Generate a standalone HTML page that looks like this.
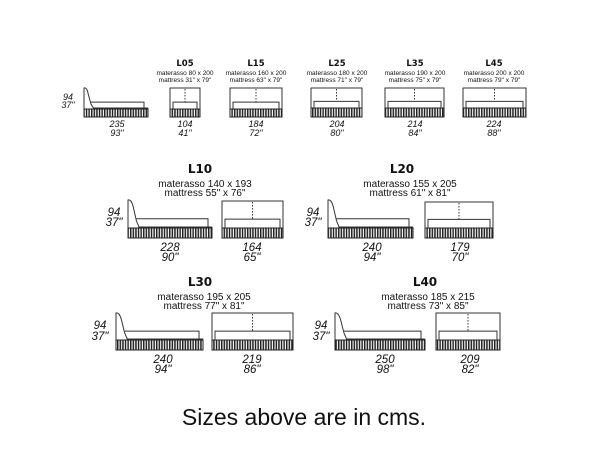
<!DOCTYPE html>
<html><head><meta charset="utf-8">
<style>
html,body{margin:0;padding:0;background:#fff;}
svg{display:block;}
.t{font-family:"Liberation Sans",sans-serif;fill:#111;}
.h{font-weight:bold;text-anchor:middle;font-family:"DejaVu Sans","Liberation Sans",sans-serif;}
.s{text-anchor:middle;}
.n{text-anchor:middle;font-style:italic;font-size:11.5px;}
.ns{text-anchor:middle;font-style:italic;font-size:9px;}
.f{font-family:"Liberation Sans",Arial,sans-serif;font-size:23px;fill:#111;text-anchor:middle;}
</style></head>
<body>
<svg id="g" width="600" height="450" viewBox="0 0 600 450" xmlns="http://www.w3.org/2000/svg">
<defs>
<pattern id="hat" width="2.6" height="10" patternUnits="userSpaceOnUse">
<rect width="1.5" height="10" fill="#222"/>
</pattern>
</defs>
<g id="shapes" fill="none" stroke="#333" stroke-width="1"></g>

<!-- top row -->
<text class="t ns" x="68" y="100">94</text>
<text class="t ns" x="68" y="108">37"</text>
<text class="t ns" x="117" y="127">235</text>
<text class="t ns" x="117" y="136">93"</text>

<text class="t h" x="185" y="66" font-size="8.5">L05</text>
<text class="t s" x="185" y="75" font-size="6.5">materasso 80 x 200</text>
<text class="t s" x="185" y="82" font-size="6.5">mattress 31" x 79"</text>
<text class="t ns" x="185" y="127">104</text>
<text class="t ns" x="185" y="136">41"</text>

<text class="t h" x="256" y="66" font-size="8.5">L15</text>
<text class="t s" x="256" y="75" font-size="6.5">materasso 160 x 200</text>
<text class="t s" x="256" y="82" font-size="6.5">mattress 63" x 79"</text>
<text class="t ns" x="256" y="127">184</text>
<text class="t ns" x="256" y="136">72"</text>

<text class="t h" x="337" y="66" font-size="8.5">L25</text>
<text class="t s" x="337" y="75" font-size="6.5">materasso 180 x 200</text>
<text class="t s" x="337" y="82" font-size="6.5">mattress 71" x 79"</text>
<text class="t ns" x="337" y="127">204</text>
<text class="t ns" x="337" y="136">80"</text>

<text class="t h" x="415" y="66" font-size="8.5">L35</text>
<text class="t s" x="415" y="75" font-size="6.5">materasso 190 x 200</text>
<text class="t s" x="415" y="82" font-size="6.5">mattress 75" x 79"</text>
<text class="t ns" x="415" y="127">214</text>
<text class="t ns" x="415" y="136">84"</text>

<text class="t h" x="494" y="66" font-size="8.5">L45</text>
<text class="t s" x="494" y="75" font-size="6.5">materasso 200 x 200</text>
<text class="t s" x="494" y="82" font-size="6.5">mattress 79" x 79"</text>
<text class="t ns" x="494" y="127">224</text>
<text class="t ns" x="494" y="136">88"</text>

<!-- middle row -->
<text class="t h" x="200" y="173" font-size="12">L10</text>
<text class="t s" x="205" y="187" font-size="10">materasso 140 x 193</text>
<text class="t s" x="205" y="196" font-size="10">mattress 55" x 76"</text>
<text class="t n" x="114" y="216">94</text>
<text class="t n" x="114" y="226">37"</text>
<text class="t n" x="170" y="251">228</text>
<text class="t n" x="170" y="261">90"</text>
<text class="t n" x="252" y="251">164</text>
<text class="t n" x="252" y="261">65"</text>

<text class="t h" x="402" y="173" font-size="12">L20</text>
<text class="t s" x="410" y="187" font-size="10">materasso 155 x 205</text>
<text class="t s" x="410" y="196" font-size="10">mattress 61" x 81"</text>
<text class="t n" x="313" y="216">94</text>
<text class="t n" x="313" y="226">37"</text>
<text class="t n" x="372" y="251">240</text>
<text class="t n" x="372" y="261">94"</text>
<text class="t n" x="460" y="251">179</text>
<text class="t n" x="460" y="261">70"</text>

<!-- bottom row -->
<text class="t h" x="200" y="286" font-size="12">L30</text>
<text class="t s" x="204" y="300" font-size="10">materasso 195 x 205</text>
<text class="t s" x="204" y="309" font-size="10">mattress 77" x 81"</text>
<text class="t n" x="100" y="329">94</text>
<text class="t n" x="100" y="340">37"</text>
<text class="t n" x="163" y="363">240</text>
<text class="t n" x="163" y="373">94"</text>
<text class="t n" x="252" y="363">219</text>
<text class="t n" x="252" y="373">86"</text>

<text class="t h" x="425" y="286" font-size="12">L40</text>
<text class="t s" x="428" y="300" font-size="10">materasso 185 x 215</text>
<text class="t s" x="428" y="309" font-size="10">mattress 73" x 85"</text>
<text class="t n" x="321" y="329">94</text>
<text class="t n" x="321" y="340">37"</text>
<text class="t n" x="385" y="363">250</text>
<text class="t n" x="385" y="373">98"</text>
<text class="t n" x="470" y="363">209</text>
<text class="t n" x="470" y="373">82"</text>

<text class="f" x="304" y="425">Sizes above are in cms.</text>
</svg>
<script>
var NS="http://www.w3.org/2000/svg",G=document.getElementById("shapes");
function el(n,a){var e=document.createElementNS(NS,n);for(var k in a)e.setAttribute(k,a[k]);G.appendChild(e);return e;}
function side(x,top,x2,bt,bb){
  var hb=bb-bt; var hw=Math.max(7,(x2-x)*0.1);
  var mt=bt-(bt-top)*0.33;
  el("path",{d:"M"+x+" "+bb+" L"+x+" "+top+" Q"+(x+3)+" "+(top-1)+" "+(x+hw*0.6)+" "+(top+6)+" L"+(x+hw)+" "+(mt+2)+" L"+(x+hw+3)+" "+(bt)});
  el("path",{d:"M"+(x+hw)+" "+mt+" L"+(x2-4)+" "+mt+" L"+(x2-4)+" "+(bt-1)});
  el("line",{x1:x+hw+2,y1:bt-1,x2:x2,y2:bt-1});
  el("line",{x1:x2,y1:bt-1,x2:x2,y2:bt});
  el("rect",{x:x,y:bt,width:x2-x,height:hb,fill:"url(#hat)",stroke:"#222"});
}
function front(x,top,x2,bt,bb){
  var mt=bt-(bt-top)*0.33;
  var cx=(x+x2)/2;
  el("rect",{x:x,y:top,width:x2-x,height:bt-top});
  el("path",{d:"M"+(x+3)+" "+bt+" L"+(x+3)+" "+mt+" L"+(x2-3)+" "+mt+" L"+(x2-3)+" "+bt});
  el("line",{x1:cx,y1:top+1,x2:cx,y2:mt,"stroke-dasharray":"1.5,1.5"});
  el("rect",{x:x,y:bt,width:x2-x,height:bb-bt,fill:"url(#hat)",stroke:"#222"});
}
side(84,88,148,109,117);
front(170,88,200,109,117);
front(230,88,282,109,117);
front(311,88,362,108,117);
front(385,88,444,108,117);
front(463,88,526,108,117);
side(128,200,212,228,238);
front(222,201,283,228,238);
side(328,200,413,228,238);
front(425,202,493,228,238);
side(116,313,203,340,350);
front(212,313,293,340,350);
side(335,313,425,340,350);
front(436,313,500,340,350);
</script>
</body></html>
